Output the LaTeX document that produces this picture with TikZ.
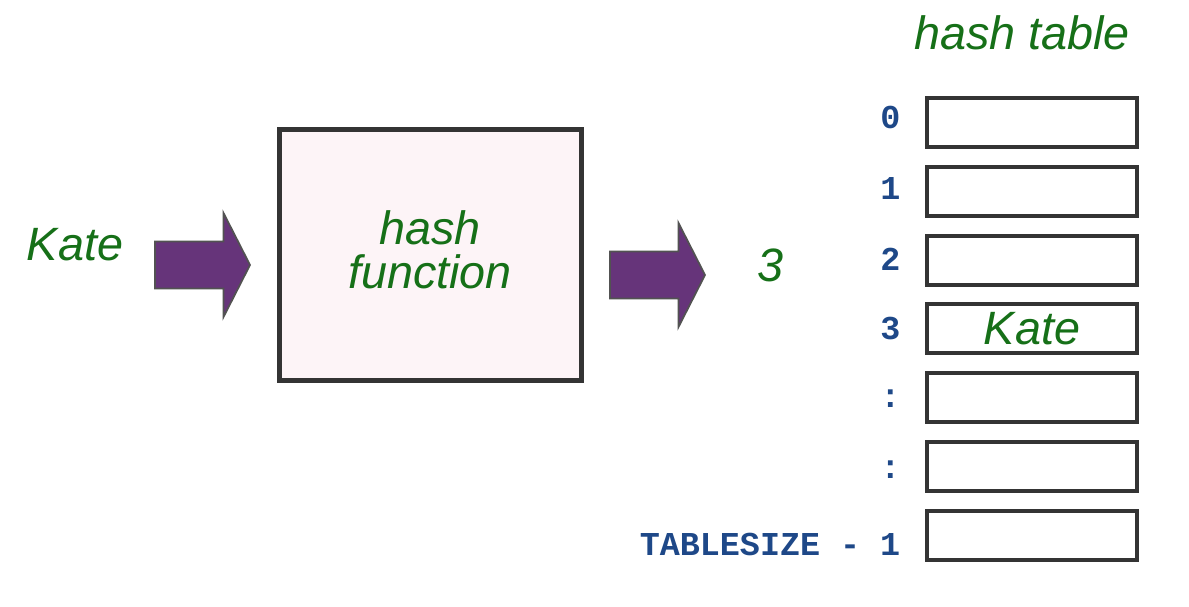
\documentclass[tikz,border=0pt]{standalone}
\usepackage{fontspec}
\setsansfont{Liberation Sans}
\setmonofont{Liberation Mono}
\definecolor{hashGreen}{RGB}{22,112,24}
\definecolor{hashIndex}{RGB}{30,72,136}
\definecolor{hashArrow}{RGB}{102,52,122}
\definecolor{hashBorder}{RGB}{52,52,52}
\definecolor{hashFill}{RGB}{253,244,247}

\begin{document}
\begin{tikzpicture}[x=1cm,y=1cm,
      word/.style={font=\fontsize{13.3}{12.6}\selectfont\sffamily\itshape,
        text=hashGreen, align=center, inner sep=0pt},
      index/.style={font=\fontsize{9.5}{10}\selectfont\ttfamily\bfseries,
        text=hashIndex, anchor=east, inner sep=0pt},
      slot/.style={draw=hashBorder, fill=white, line width=1.15pt,
        minimum width=2.10cm, minimum height=.49cm, inner sep=0pt},
      funcbox/.style={draw=hashBorder, fill=hashFill, line width=1.35pt,
        minimum width=3.02cm, minimum height=2.51cm, inner sep=0pt},
      blockarrow/.style={fill=hashArrow, draw=hashBorder!85, line width=.5pt,
        line join=miter}]
      \useasboundingbox (0,0) rectangle (11.89,6.07);

      \fill[white] (0,0) rectangle (11.89,6.07);

      \node[word] (key) at (.75,3.62) {Kate};
      \node[funcbox] (func) at (4.305,3.52) {};
      \node[word] (funcname) at (4.30,3.57) {hash\\function};
      \node[word] (hashval) at (7.70,3.42) {3};

      \foreach \x/\y in {1.55/3.42,6.10/3.32}{
        \path[blockarrow] (\x,{\y+.235}) -- ++(.685,0) -- ++(0,.285)
          -- ({\x+.95},\y) -- ({\x+.685},{\y-.52}) -- ++(0,.285)
          -- (\x,{\y-.235}) -- cycle;}

      \node[word] (title) at (10.22,5.74) {hash table};
      \foreach \i/\lab/\dy in {0/0/.045,1/1/.03,2/2/.01,3/3/0,
          4/:/-.01,5/:/-.03,6/TABLESIZE - 1/-.095}{
        \node[slot] (slot\i) at (10.32,{4.845-.6883*\i}) {};
        \node[index] (idx\i) at (9.01,{4.845-.6883*\i+\dy}) {\lab};}
      \node[word] (stored) at (slot3) {Kate};
    \end{tikzpicture}
\end{document}
